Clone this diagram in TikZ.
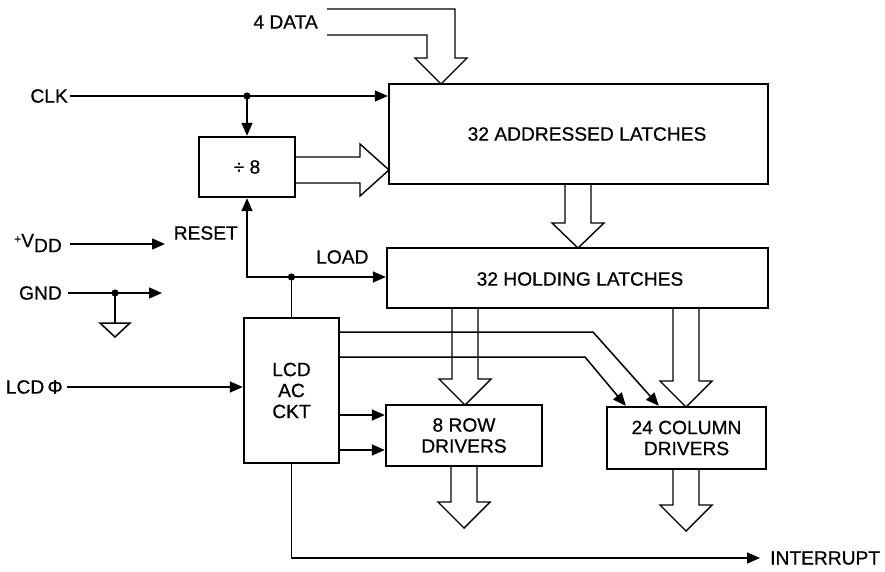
\documentclass[tikz,border=0pt]{standalone}
\usepackage{fontspec}
\setmainfont[FakeBold=0.6]{Liberation Sans}
\usetikzlibrary{arrows.meta,calc}
\begin{document}
\begin{tikzpicture}[x=1pt,y=-1pt,
  every node/.style={font=\fontsize{19.2}{21}\selectfont},
  box/.style={draw, line width=2.4pt, inner sep=0pt, align=center},
  wire/.style={line width=1.5pt},
  arr/.style={wire, -{Triangle[length=13pt,width=11pt]}},
  fat/.style={line width=1.4pt, line join=miter},
  lbl/.style={inner sep=0pt},
]
\useasboundingbox (0,0) rectangle (885,572);

% blocks
\node[box, minimum width=379pt, minimum height=100pt] (addr) at (578.5,134) {};
\node[lbl] (addrtext) at (587,134) {32 ADDRESSED LATCHES};
\node[box, minimum width=381pt, minimum height=60pt] (hold) at (577.5,278) {};
\node[lbl] (holdtext) at (580,279) {32 HOLDING LATCHES};
\node[box, minimum width=96pt, minimum height=60pt] (div) at (247,167) {÷ 8};
\node[box, minimum width=95pt, minimum height=145pt] (lcd) at (291.5,390.5) {LCD\\AC\\CKT};
\node[box, minimum width=156pt, minimum height=61pt] (row) at (464,435.5) {8 ROW\\DRIVERS};
\node[box, minimum width=159pt, minimum height=62pt] (col) at (686.5,438) {24 COLUMN\\DRIVERS};

% labels
\node[lbl, anchor=east] (data) at (318,22) {4 DATA};
\node[lbl, anchor=east] (clk) at (68,96) {CLK};
\node[lbl, anchor=east] (vdd) at (62,243) {\raisebox{4pt}{\fontsize{12}{12}\selectfont +}V\raisebox{-5pt}{DD}};
\node[lbl, anchor=east] (gnd) at (62,293) {GND};
\node[lbl, anchor=east] (phi) at (63,387) {LCD\,Φ};
\node[lbl, anchor=east] (reset) at (238,233) {RESET};
\node[lbl, anchor=west] (load) at (316,257) {LOAD};
\node[lbl, anchor=west] (intr) at (770,558) {INTERRUPT};

% junctions and free ends
\coordinate (clkdot) at (247,96);
\coordinate (ldot) at (291.5,277);
\coordinate (gdot) at (115,293);
\coordinate (vddstart) at (70,244);
\coordinate (vddend) at (165,244);
\coordinate (gndend) at (162,293);
\coordinate (gndtop) at (115,323);

% thin wires
\draw[arr] ([xshift=2pt]clk.east) -- (clk.east -| addr.west);
\draw[arr] (clkdot) -- (div.north);
\fill (clkdot) circle[radius=3.6pt];

\draw[arr] (ldot) -- (ldot -| div.south) -- (div.south);
\draw[arr] (ldot) -- (ldot -| hold.west);
\draw[wire] (ldot) -- (lcd.north);
\fill (ldot) circle[radius=3.6pt];

\draw[arr] (vddstart) -- (vddend);
\draw[arr] ([xshift=6pt]gnd.east) -- (gndend);
\draw[wire] (gdot) -- (gndtop);
\fill (gdot) circle[radius=3.6pt];
\draw[wire, line join=miter] ([xshift=-15pt]gndtop) -- ([xshift=15pt]gndtop) -- ([yshift=-14pt]gndtop) -- cycle;

\draw[arr] ([xshift=4pt]phi.east) -- (phi.east -| lcd.west);

\draw[arr] ([yshift=-24.5pt]lcd.east) coordinate (a1) -- (a1 -| row.west);
\draw[arr] ([yshift=-59.5pt]lcd.east) coordinate (a2) -- (a2 -| row.west);

\draw[arr] ([yshift=58.5pt]lcd.east) -- (593,332) -- ([xshift=53pt]col.north west);
\draw[arr] ([yshift=33.5pt]lcd.east) -- (585,357) -- ([xshift=20pt]col.north west);

\draw[arr, shorten >=10pt] (lcd.south) |- (intr.west);

% fat (bus) arrows
\draw[fat] (327,35) -- (427,35) -- (427,58) -- (415,58) -- (441,84) -- (467,58) -- (455,58) -- (455,9) -- (327,9);
\draw[fat] (296,157) -- (360,157) -- (360,144) -- (389,170) -- (360,196) -- (360,183) -- (296,183);
\draw[fat] (565,185) -- (565,223) -- (552,223) -- (578,248) -- (604,223) -- (591,223) -- (591,185);
\draw[fat] (452,309) -- (452,379) -- (439,379) -- (465,405) -- (491,379) -- (478,379) -- (478,309);
\draw[fat] (673,309) -- (673,381) -- (660,381) -- (686,407) -- (712,381) -- (699,381) -- (699,309);
\draw[fat] (451,467) -- (451,502) -- (438,502) -- (464,528) -- (490,502) -- (477,502) -- (477,467);
\draw[fat] (673,470) -- (673,505) -- (660,505) -- (686,531) -- (712,505) -- (699,505) -- (699,470);
\end{tikzpicture}
\end{document}
